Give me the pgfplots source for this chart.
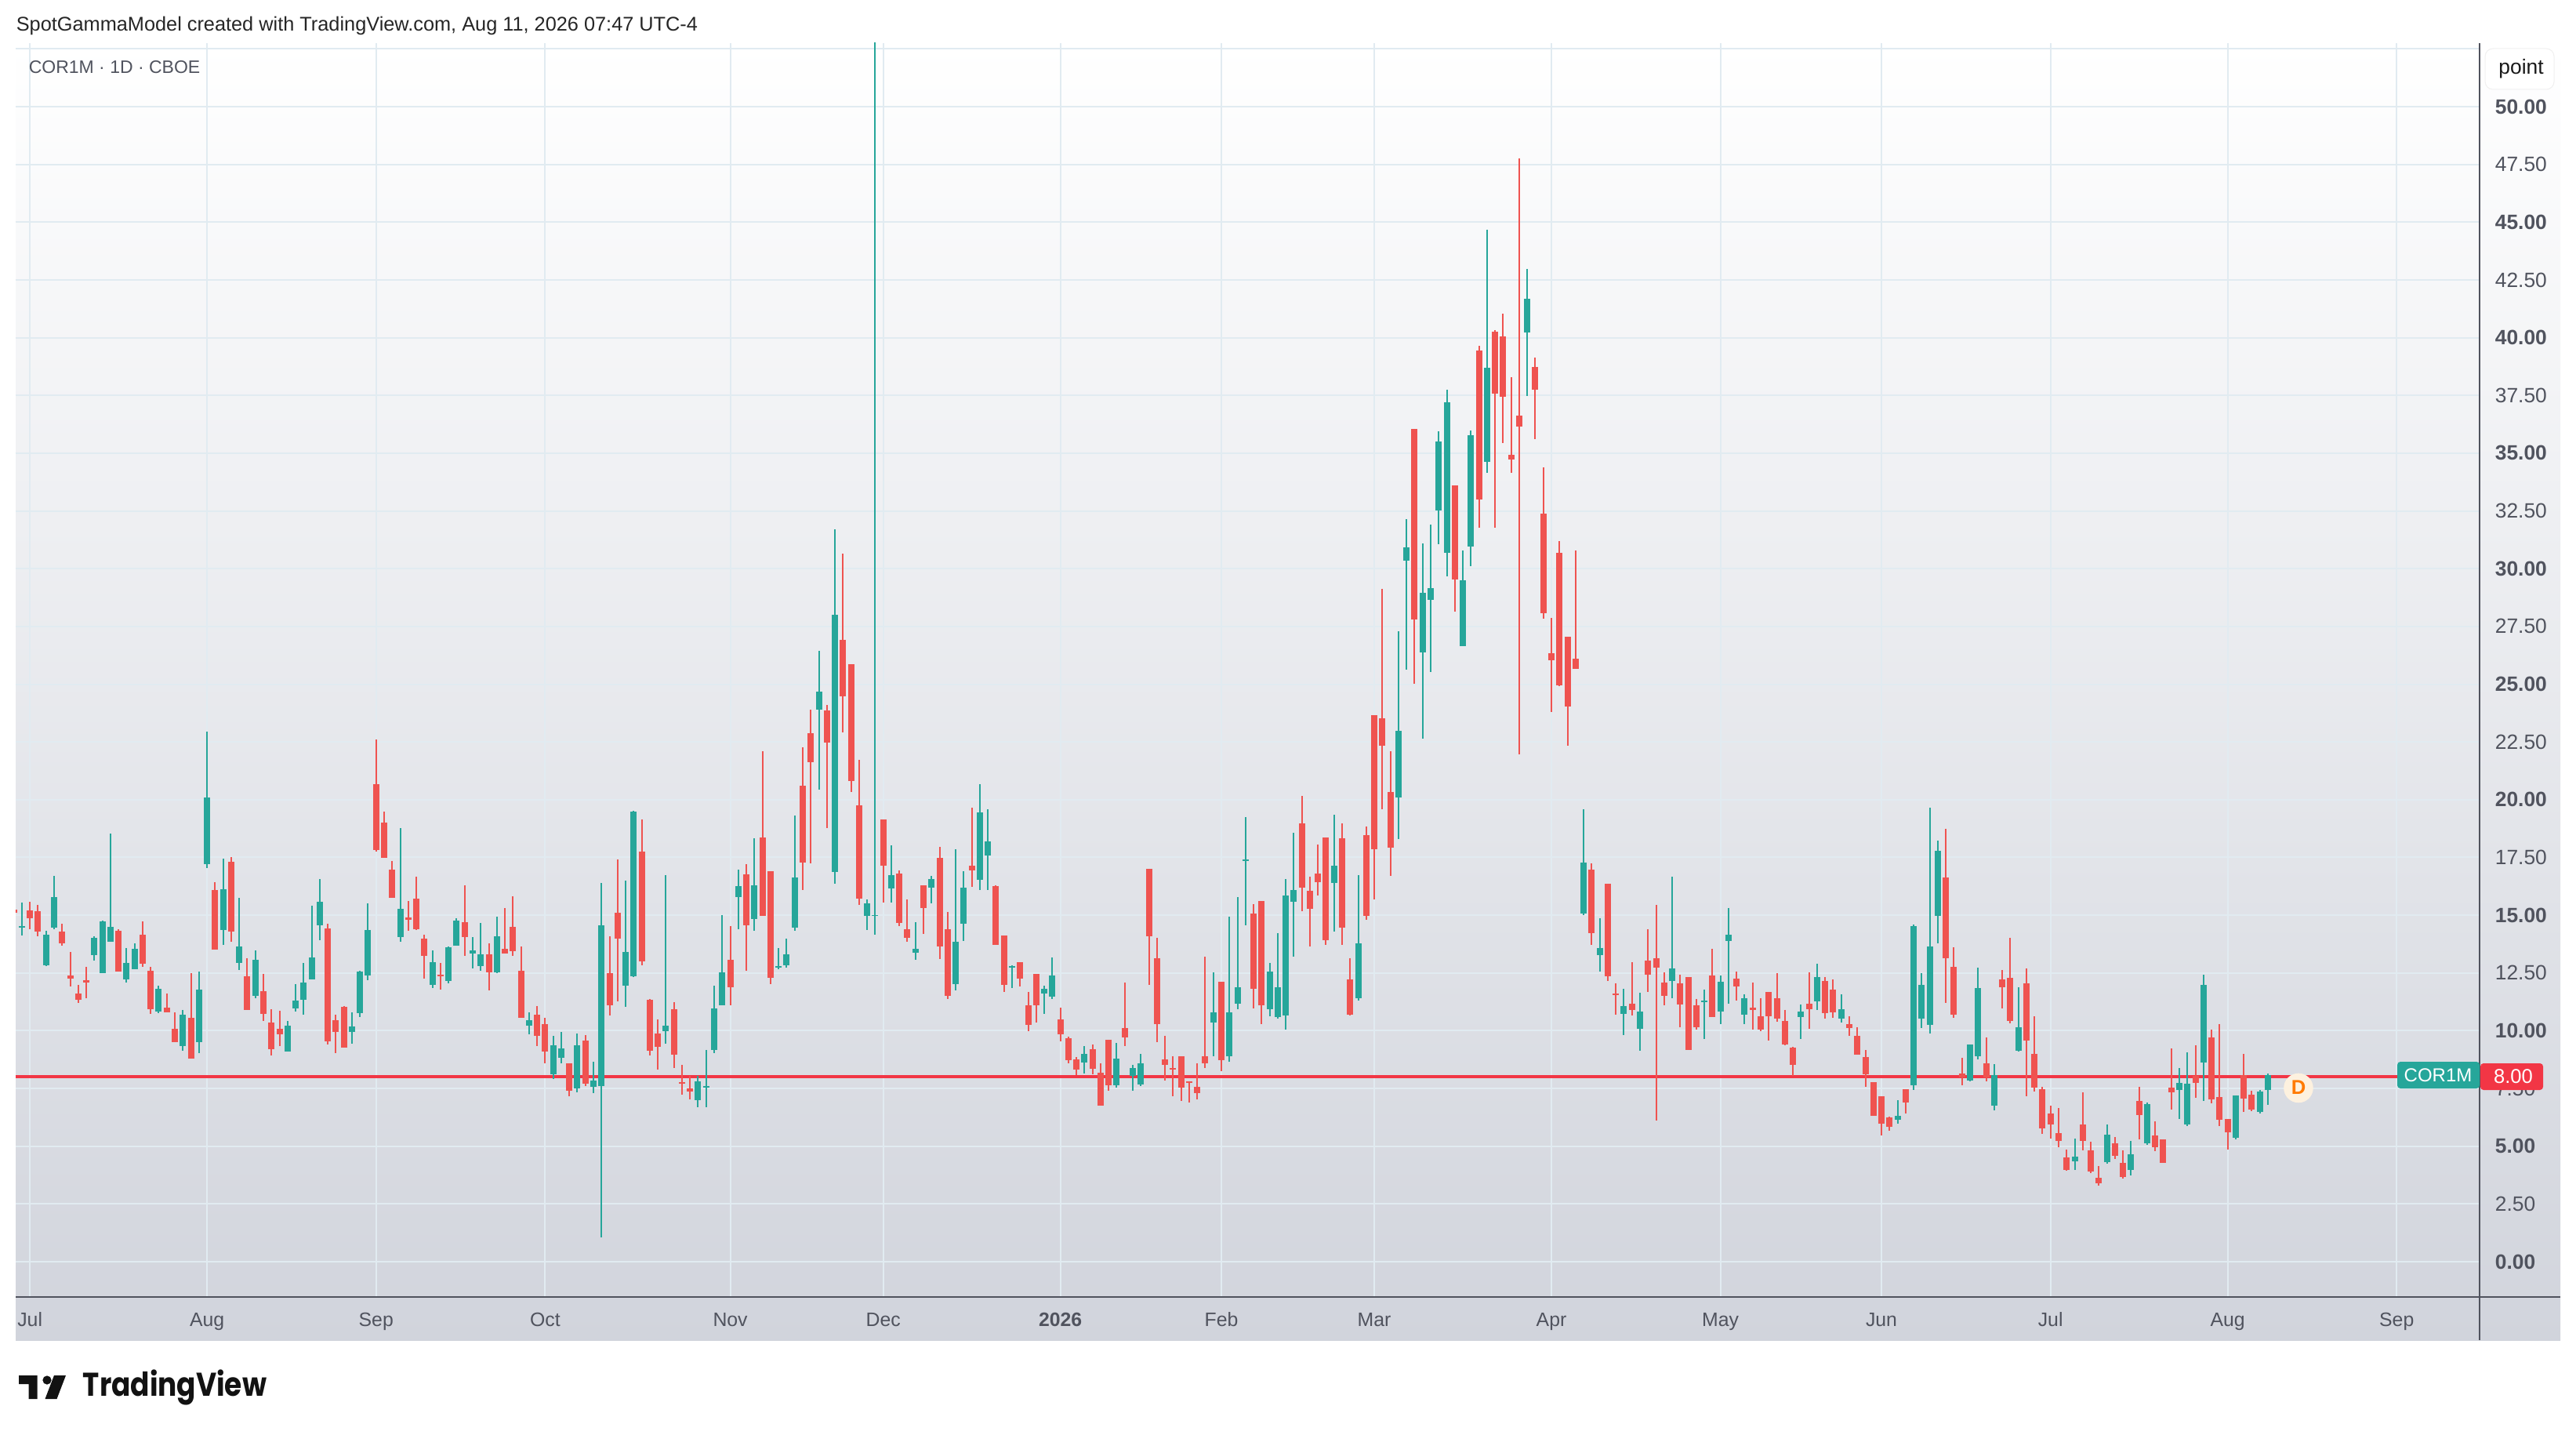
\documentclass[border=0pt]{standalone}
\usepackage{fontspec}
\setmainfont{Liberation Sans}
\newfontfamily\logofont{Poppins}
\usepackage{pgfplots}
\usepackage{pgfplotstable}
\pgfplotsset{compat=1.18}
\definecolor{cup}{HTML}{26A69A}
\definecolor{cdn}{HTML}{EF5350}
\definecolor{cline}{HTML}{F23645}
\definecolor{cgrid}{HTML}{E1EBF1}
\definecolor{ctxt}{HTML}{50535E}
\definecolor{cbot}{HTML}{D1D4DC}
\definecolor{cdbg}{HTML}{FDF1DF}
\definecolor{cdfg}{HTML}{FF7A00}
\pgfplotstableread{
i h t b l
0 15.55 14.53 14.46 14.12
3 14.32 14.15 12.83 12.80
4 16.70 15.78 14.46 14.39
9 14.09 14.02 13.27 13.03
10 14.77 14.73 12.49 12.49
11 18.53 14.49 13.85 13.85
13 13.58 12.93 12.22 12.08
14 13.78 13.54 12.66 12.66
17 11.95 11.81 10.83 10.76
20 10.90 10.69 9.33 9.13
22 12.56 11.78 9.50 9.03
23 22.95 20.10 17.21 17.04
25 17.45 16.12 14.36 13.71
27 15.75 13.65 12.93 12.63
29 13.48 13.07 11.51 11.41
33 10.42 10.22 9.10 9.10
34 12.02 11.30 10.96 10.83
35 12.93 12.08 11.34 10.69
36 15.41 13.17 12.22 12.22
37 16.56 15.58 14.56 13.92
41 10.79 10.18 9.95 9.44
42 12.59 12.56 10.76 10.59
43 15.51 14.36 12.39 12.19
47 18.77 15.27 14.05 13.85
51 13.48 12.97 11.98 11.85
53 13.64 13.62 12.15 12.05
54 14.87 14.77 13.67 13.67
56 14.05 13.47 13.35 12.69
57 14.66 13.31 12.80 12.59
59 14.94 14.08 12.52 12.49
63 10.79 10.45 10.21 9.84
66 9.77 9.37 8.11 7.90
67 9.94 9.22 8.82 8.59
69 9.87 9.37 7.49 7.32
71 8.65 7.85 7.56 7.30
72 16.39 14.56 7.61 1.05
75 16.50 13.40 11.94 11.03
76 19.51 19.48 12.35 12.32
80 16.74 10.21 9.98 9.44
84 8.06 7.80 6.99 6.69
85 9.17 7.61 7.54 6.69
86 11.94 10.96 9.17 9.03
87 15.01 12.52 11.10 11.10
89 16.96 16.26 15.78 14.39
91 18.33 16.29 14.83 14.32
94 13.57 12.80 12.73 12.66
95 13.98 13.31 12.83 12.73
96 19.31 16.63 14.46 14.32
99 26.44 24.68 23.89 20.43
101 31.70 28.00 16.86 16.35
105 15.68 15.51 14.97 14.36
106 54.00 15.00 14.96 14.15
108 18.02 16.73 16.16 15.55
111 14.69 13.54 13.38 13.06
113 16.70 16.57 16.19 15.52
116 17.85 13.85 12.01 11.75
117 16.90 16.19 14.63 13.89
119 20.66 19.45 16.53 16.09
120 19.58 18.20 17.59 16.09
123 12.83 12.80 12.72 11.85
127 11.94 11.81 11.60 10.73
128 13.16 12.39 11.47 11.37
132 9.33 9.00 8.62 8.15
136 9.47 8.79 7.64 7.54
138 8.52 8.38 8.04 7.40
139 9.00 8.59 7.67 7.60
148 12.53 10.79 10.35 8.89
150 14.94 10.79 8.89 8.66
151 15.78 11.88 11.17 10.93
152 19.25 17.41 17.35 14.56
155 12.93 12.56 10.93 10.62
156 14.22 11.88 10.59 10.52
157 16.56 15.85 10.66 10.05
158 18.57 16.09 15.58 13.20
163 19.35 17.14 16.40 14.29
166 16.73 13.78 11.41 11.30
171 27.29 22.98 20.10 18.30
172 32.14 30.93 30.34 25.63
174 31.10 28.95 26.37 22.63
175 31.92 29.16 28.64 25.52
176 35.95 35.50 32.52 31.07
177 37.75 37.20 30.69 29.66
179 30.79 29.49 26.65 26.65
180 35.99 35.78 30.96 30.11
182 44.68 38.70 34.62 34.15
187 42.98 41.68 40.23 37.47
194 19.59 17.29 15.08 15.01
196 14.88 13.59 13.28 12.56
199 11.82 11.07 10.74 9.82
201 11.64 10.83 10.09 9.14
205 16.66 12.71 12.15 11.42
209 11.79 11.31 11.23 9.65
211 12.39 12.12 10.83 10.30
212 15.32 14.16 13.88 11.18
214 11.58 11.42 10.70 10.30
221 11.13 10.83 10.59 9.64
223 12.90 12.32 11.27 10.90
226 11.57 10.93 10.52 10.35
233 6.99 6.31 6.14 5.97
235 14.60 14.53 7.64 7.43
236 12.49 11.98 10.52 10.12
237 19.65 13.65 10.25 9.88
238 18.23 17.79 14.97 13.78
242 9.40 9.40 7.84 7.81
243 12.73 11.85 8.89 8.76
245 8.55 8.08 6.75 6.55
248 11.88 10.15 9.13 9.10
255 5.33 4.55 4.34 3.97
259 5.94 5.50 4.31 4.24
262 5.23 4.65 3.97 3.73
264 6.89 6.82 5.13 5.06
268 8.38 7.74 7.43 6.18
269 9.06 7.71 5.94 5.87
271 12.42 11.98 8.62 6.96
275 7.20 7.20 5.36 5.30
278 7.43 7.37 6.48 6.42
279 8.15 8.08 7.43 6.79
}\upT
\pgfplotstableread{
i h t b l
-1 15.24 15.24 15.10 15.10
1 15.58 15.21 14.87 14.39
2 15.44 15.17 14.29 14.09
5 14.63 14.29 13.78 13.68
6 13.41 12.39 12.25 11.91
7 11.98 11.61 11.34 11.20
8 12.76 12.19 12.08 11.41
12 14.39 14.32 12.56 12.56
15 14.73 14.15 12.90 12.76
16 12.76 12.59 10.93 10.73
18 11.61 11.00 10.79 10.79
19 10.79 10.08 9.50 9.50
21 12.49 10.56 8.79 8.79
24 16.43 16.09 13.51 13.51
26 17.52 17.31 14.29 13.85
28 13.14 12.36 10.90 10.90
30 12.46 11.71 10.73 10.42
31 10.93 10.35 9.20 8.93
32 10.86 10.08 9.84 9.33
38 14.63 14.43 9.54 9.40
39 10.69 10.45 9.95 9.03
40 11.07 11.03 9.27 9.27
44 22.60 20.67 17.82 17.75
45 19.48 19.01 17.48 17.48
46 17.35 16.97 15.75 15.75
48 15.61 14.90 14.80 14.32
49 16.67 15.72 14.39 14.36
50 14.15 13.98 13.24 12.25
52 12.93 12.42 12.36 11.77
55 16.29 14.70 14.05 13.24
58 13.78 13.31 12.52 11.74
60 15.30 13.54 13.33 13.33
61 15.81 14.49 13.45 13.24
62 13.64 12.59 10.56 10.56
64 11.07 10.69 9.77 9.34
65 10.56 10.28 9.10 8.59
68 8.59 8.59 7.40 7.16
70 9.80 9.58 7.70 7.61
73 14.08 12.49 11.10 10.66
74 17.41 15.11 13.98 11.27
77 19.15 17.75 13.00 12.83
78 11.36 11.34 9.13 8.93
79 10.49 9.87 9.29 8.31
81 11.24 10.93 8.96 8.38
82 8.52 7.78 7.70 7.23
83 8.06 7.49 7.37 7.03
88 14.53 13.07 11.88 11.10
90 17.20 16.77 14.56 12.59
92 22.10 18.36 14.98 14.98
93 16.91 16.91 12.29 12.01
97 22.27 20.61 17.27 16.09
98 23.89 22.87 21.62 17.24
100 24.10 23.86 22.47 18.77
102 30.65 26.92 24.47 22.90
103 25.86 25.86 20.81 20.34
104 21.72 19.76 15.71 15.45
107 19.13 19.13 17.14 15.55
109 16.93 16.80 14.66 14.53
110 15.68 14.40 14.02 13.85
112 16.29 16.29 15.30 14.18
114 17.95 17.47 13.64 13.10
115 15.14 14.40 11.50 11.37
118 19.64 17.14 16.93 16.22
121 16.30 16.26 13.71 13.71
122 14.12 14.12 11.98 11.68
124 12.96 12.96 12.26 11.91
125 11.68 11.09 10.25 9.97
126 12.45 12.45 11.09 10.35
129 10.99 10.48 9.84 9.54
130 9.74 9.67 8.72 8.59
131 8.86 8.76 8.32 8.08
133 9.40 9.20 8.35 8.11
134 8.59 8.18 6.75 6.75
135 9.61 9.61 7.64 7.40
137 12.08 10.12 9.71 9.33
140 17.01 17.01 14.09 11.98
141 14.02 13.14 10.29 9.50
142 9.78 8.76 8.52 7.84
143 8.89 8.38 8.32 7.16
144 8.89 8.89 7.54 6.96
145 7.81 7.81 7.74 6.89
146 8.59 7.57 7.30 7.03
147 13.20 8.89 8.59 8.38
149 12.12 12.12 8.72 8.25
153 15.48 15.07 11.81 10.96
154 15.61 15.61 11.10 10.29
159 20.16 18.97 16.19 15.17
160 16.67 16.06 15.27 13.65
161 18.06 16.80 16.43 15.85
162 18.36 18.36 13.92 13.71
164 18.97 18.33 14.46 13.71
165 13.14 12.22 10.69 10.66
167 18.84 18.47 14.97 14.80
168 23.65 23.65 17.85 15.68
169 29.13 23.52 22.34 19.59
170 22.09 20.33 17.92 16.70
173 36.05 36.05 27.79 25.02
178 33.61 33.61 29.53 28.14
181 39.64 39.45 32.99 31.78
183 40.33 40.26 37.58 31.78
184 41.04 40.06 37.44 35.43
185 38.29 34.93 34.72 34.15
186 47.76 36.63 36.16 21.96
188 39.14 38.74 37.75 35.60
189 34.39 32.38 28.07 27.83
190 27.86 26.34 26.03 23.79
191 31.19 30.69 24.95 24.92
192 27.05 27.05 24.04 22.34
193 30.79 26.10 25.66 25.66
195 17.25 16.98 14.23 13.72
197 16.37 16.37 12.36 12.15
198 12.06 11.62 11.55 10.70
200 12.96 11.18 10.90 10.66
202 14.40 13.04 12.43 11.68
203 15.45 13.15 12.72 6.12
204 12.52 12.08 11.51 11.11
206 12.43 12.06 11.14 10.15
207 12.32 12.32 9.17 9.17
208 11.38 11.11 10.15 10.06
210 13.55 12.39 10.59 10.59
213 12.56 12.26 11.92 11.31
215 12.08 11.00 10.88 10.06
216 11.42 10.63 10.06 9.98
217 11.68 11.68 10.62 9.57
218 12.49 11.41 10.52 10.39
219 10.90 10.42 9.40 9.37
220 9.30 9.27 8.52 8.04
222 12.53 11.17 10.93 10.08
224 12.32 12.15 10.76 10.52
225 12.22 11.78 10.79 10.56
227 10.62 10.29 10.12 9.78
228 10.15 9.78 8.96 8.96
229 9.16 8.86 8.11 7.57
230 7.77 7.77 6.31 6.31
231 7.16 7.16 5.97 5.46
232 6.28 6.25 5.84 5.67
234 7.47 7.47 6.89 6.42
239 18.74 16.63 13.14 11.20
240 13.61 12.76 10.69 10.56
241 8.83 8.15 7.98 7.64
244 9.71 8.59 7.98 7.81
246 12.63 12.22 11.88 10.96
247 14.02 12.29 10.42 10.32
249 12.70 12.05 9.57 7.16
250 10.62 9.00 7.54 7.37
251 7.57 7.47 5.77 5.53
252 6.75 6.42 5.94 5.33
253 6.65 5.57 5.23 4.96
254 4.85 4.51 3.97 3.94
256 7.33 5.94 5.23 4.82
257 5.19 4.82 3.90 3.84
258 4.14 3.63 3.39 3.29
260 5.40 5.13 4.58 4.45
261 4.82 4.28 3.67 3.60
263 7.57 6.96 6.35 5.30
265 6.08 5.46 4.96 4.79
266 5.30 5.30 4.28 4.28
267 9.23 7.54 7.33 6.59
270 9.37 8.06 7.74 7.09
272 10.05 9.71 7.03 6.86
273 10.29 7.13 6.14 5.87
274 6.18 6.18 5.60 4.85
276 9.00 8.08 7.06 6.48
277 7.40 7.23 6.59 6.52
}\downT
\newcommand{\candles}[2]{%
  \addplot[draw=none, no marks, forget plot, error bars/.cd, y dir=minus, y explicit,
    error mark=none, error bar style={draw=#2, line width=0.5pt, line cap=butt}]
    table[x=i, y=h, y error expr=\thisrow{h}-\thisrow{l}] {#1};
  \addplot[draw=none, no marks, forget plot, error bars/.cd, y dir=minus, y explicit,
    error mark=none, error bar style={draw=#2, line width=2pt, line cap=butt}]
    table[x=i, y=t, y error expr=\thisrow{t}-\thisrow{b}] {#1};
}
\newcommand{\fs}[1]{\fontsize{#1}{#1}\selectfont}
\begin{document}
\begin{tikzpicture}
\useasboundingbox (0,0) rectangle (821.5pt,-457.5pt);
\begin{scope}[x=0.25pt,y=-0.25pt]
\fill[white] (0,0) rectangle (3286,1830);
\shade[top color=white,bottom color=cbot] (20,55) rectangle (3266,1709);
\end{scope}
\begin{axis}[
  at={(5pt,-413.5pt)}, anchor=south west,
  width=785.75pt, height=399.75pt, scale only axis,
  xmin=-0.769, xmax=305.3, ymin=-1.5275, ymax=52.75,
  axis line style={draw=none},
  major tick length=0pt, tick style={draw=none},
  grid=major, grid style={color=cgrid,line width=0.5pt},
  xtick={1,23,44,65,88,107,129,149,168,190,211,231,252,274,295},
  xticklabels={Jul,Aug,Sep,Oct,Nov,Dec,\textbf{2026},Feb,Mar,Apr,May,Jun,Jul,Aug,Sep},
  ytick={0,2.5,5,7.5,10,12.5,15,17.5,20,22.5,25,27.5,30,32.5,35,37.5,40,42.5,45,47.5,50,52.5},
  yticklabels={\textbf{0.00},2.50,\textbf{5.00},7.50,\textbf{10.00},12.50,\textbf{15.00},17.50,\textbf{20.00},22.50,\textbf{25.00},27.50,\textbf{30.00},32.50,\textbf{35.00},37.50,\textbf{40.00},42.50,\textbf{45.00},47.50,\textbf{50.00},{}},
  yticklabel pos=right,
  y tick label style={anchor=west,inner sep=0pt,xshift=4.75pt,font=\fs{6.6},text=ctxt},
  x tick label style={anchor=base,inner sep=0pt,yshift=-9.25pt,font=\fs{6.2},text=ctxt},
]
\addplot[color=cline,line width=0.95pt,forget plot] coordinates {(-0.769,8.00) (305.3,8.00)};
\candles{\upT}{cup}
\candles{\downT}{cdn}
\addplot[color=cdbg,only marks,mark=*,mark size=4.5pt,mark options={draw=cdbg,fill=cdbg},forget plot] coordinates {(282.8,7.52)};
\end{axis}
\begin{scope}[x=0.25pt,y=-0.25pt]
\draw[color=ctxt,line width=0.55pt] (3163,55) -- (3163,1709);
\draw[color=ctxt,line width=0.55pt] (20,1654) -- (3266,1654);
\node[anchor=center,inner sep=0pt,text=cdfg,font=\fs{6.4}\bfseries] at (2932,1387) {D};
\node[anchor=west,inner sep=0pt,font=\fs{6.33},text=black!85] at (20,33) {SpotGammaModel created with TradingView.com, Aug 11, 2026 07:47 UTC-4};
\node[anchor=west,inner sep=0pt,font=\fs{5.75},text=ctxt] at (36,86) {COR1M · 1D · CBOE};
\draw[color=black!6,fill=white,rounded corners=2.5pt,line width=0.25pt] (3170,62) rectangle (3258,114);
\node[inner sep=0pt,font=\fs{6.6},text=black!90] at (3216,88) {point};
\fill[cup,rounded corners=1pt] (3058,1354) rectangle (3163,1388);
\node[inner sep=0pt,font=\fs{6.0},text=white] at (3110,1371) {COR1M};
\fill[cline,rounded corners=1pt] (3164,1356) rectangle (3244,1390);
\node[inner sep=0pt,font=\fs{6.4},text=white] at (3206,1373) {8.00};
% logo
\fill[black!93] (24,1754) -- (47.5,1754) -- (47.5,1784) -- (36.7,1784) -- (36.7,1765) -- (24,1765) -- cycle;
\fill[black!93] (60,1760) circle[radius=1.4pt];
\fill[black!93] (69,1754) -- (84,1754) -- (72.5,1784) -- (57.5,1784) -- cycle;
\node[anchor=west,inner sep=0pt,text=black!93] at (105,1769) {\scalebox{0.854}[1]{\logofont\fs{10.5}\bfseries TradingView}};
\end{scope}
\end{tikzpicture}
\end{document}
